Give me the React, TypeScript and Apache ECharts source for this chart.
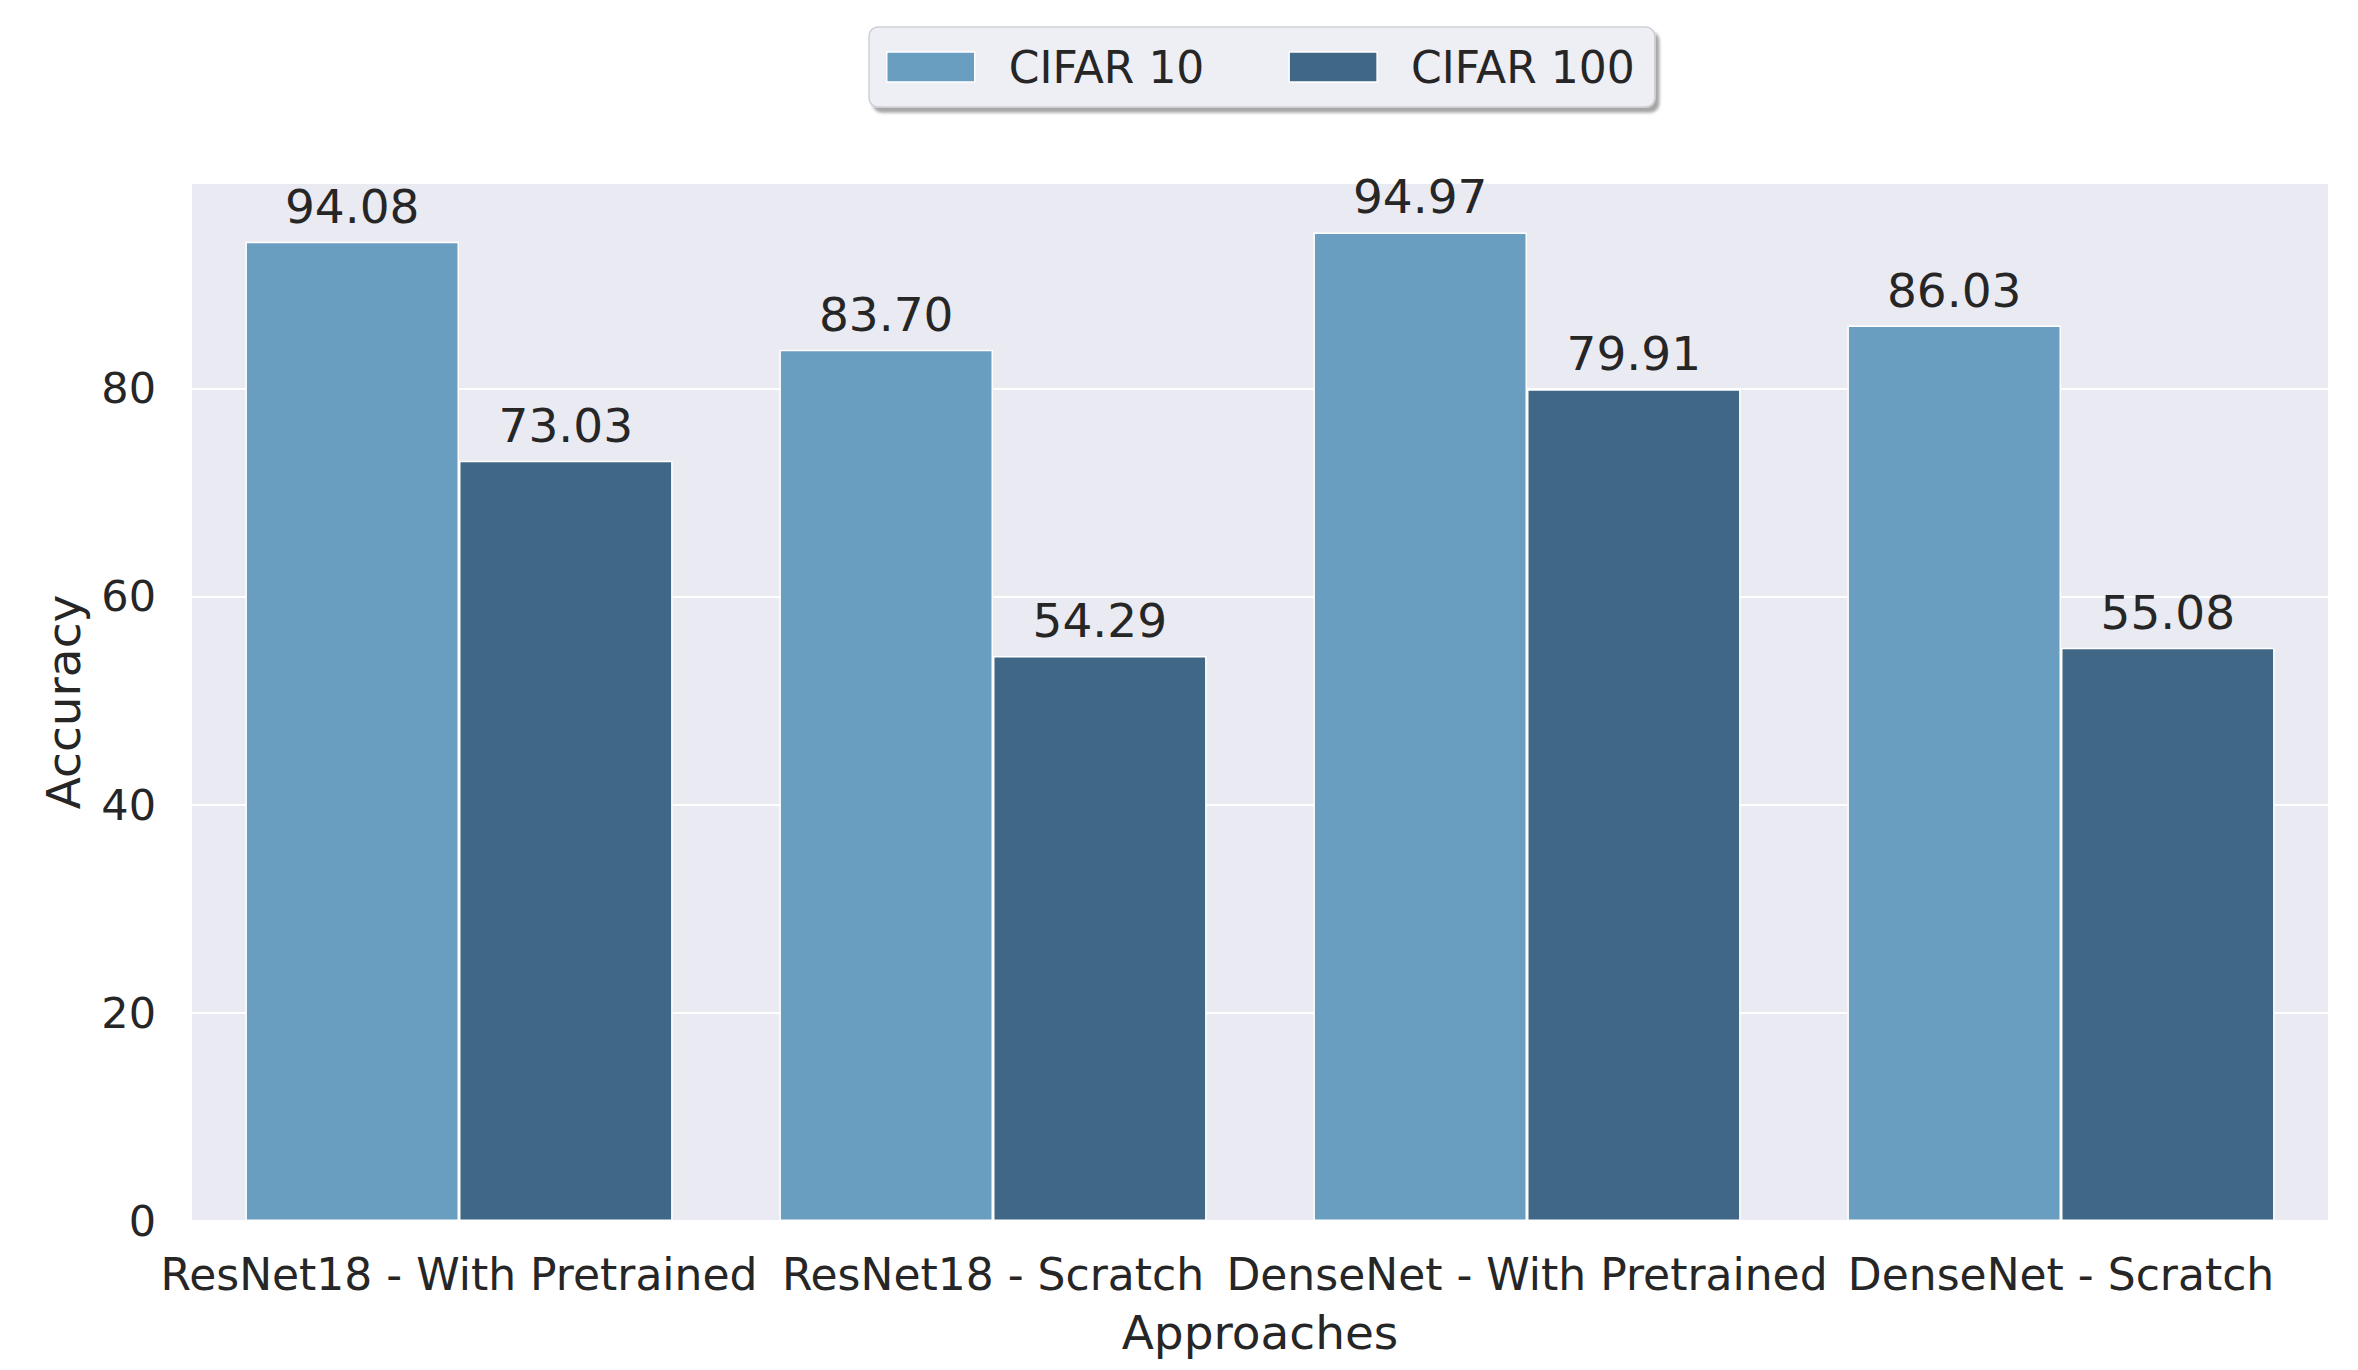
import React, { useEffect, useRef } from "react";
import * as echarts from "echarts";

const categories = [
  "ResNet18 - With Pretrained",
  "ResNet18 - Scratch",
  "DenseNet - With Pretrained",
  "DenseNet - Scratch",
];
const seriesNames = ["CIFAR 10", "CIFAR 100"];
const cifar10 = [94.08, 83.7, 94.97, 86.03];
const cifar100 = [73.03, 54.29, 79.91, 55.08];
const yTicks = [0, 20, 40, 60, 80];
const yMax = 99.72;

const FONT = "DejaVu Sans";
const TEXT = "#262626";
const COLORS = ["#6A9EC0", "#416786"];

export default function App() {
  const ref = useRef<HTMLDivElement>(null);
  useEffect(() => {
    if (!ref.current) return;
    const chart = echarts.init(ref.current, undefined, { renderer: "svg" });
    const mkSeries = (name: string, data: number[], color: string) => ({
      name,
      type: "bar",
      data,
      barGap: "0%",
      barCategoryGap: "20%",
      itemStyle: { color, borderColor: "#ffffff", borderWidth: 1.5 },
      label: {
        show: true,
        position: "top",
        distance: 12,
        formatter: (p: any) => Number(p.value).toFixed(2),
        fontFamily: FONT,
        fontSize: 47,
        color: TEXT,
      },
    });
    chart.setOption({
      animation: false,
      backgroundColor: "#ffffff",
      textStyle: { fontFamily: FONT },
      legend: {
        data: seriesNames,
        top: 27,
        left: 869,
        itemWidth: 88,
        itemHeight: 30,
        itemGap: 84,
        icon: "rect",
        itemStyle: { borderColor: "#ffffff", borderWidth: 1.5 },
        padding: [16, 20, 16, 17],
        backgroundColor: "#EEEEF5",
        borderColor: "#CFCFD6",
        borderWidth: 1.5,
        borderRadius: 9,
        shadowColor: "rgba(0,0,0,0.35)",
        shadowBlur: 3,
        shadowOffsetX: 4,
        shadowOffsetY: 5,
        textStyle: {
          fontFamily: FONT,
          fontSize: 44,
          color: TEXT,
          padding: [0, 0, 0, 29],
          lineHeight: 48,
        },
      },
      grid: {
        left: 192,
        right: 30,
        top: 183,
        bottom: 149,
        show: true,
        backgroundColor: "#EAEAF2",
        borderWidth: 0,
        containLabel: false,
      },
      xAxis: {
        type: "category",
        data: categories,
        name: "Approaches",
        nameLocation: "middle",
        nameGap: 88,
        nameTextStyle: { fontFamily: FONT, fontSize: 47, color: TEXT },
        axisLine: { show: false },
        axisTick: { show: false },
        axisLabel: {
          fontFamily: FONT,
          fontSize: 44,
          color: TEXT,
          margin: 31,
          interval: 0,
        },
        splitLine: { show: false },
      },
      yAxis: {
        type: "value",
        min: 0,
        max: yMax,
        interval: 20,
        name: "Accuracy",
        nameLocation: "middle",
        nameGap: 105,
        nameTextStyle: { fontFamily: FONT, fontSize: 47, color: TEXT },
        axisLine: { show: false },
        axisTick: { show: false },
        axisLabel: {
          fontFamily: FONT,
          fontSize: 43,
          color: TEXT,
          margin: 36,
          formatter: (v: number) => (yTicks.includes(v) ? String(v) : ""),
        },
        splitLine: { show: true, lineStyle: { color: "#ffffff", width: 2 } },
      },
      series: [
        mkSeries(seriesNames[0], cifar10, COLORS[0]),
        mkSeries(seriesNames[1], cifar100, COLORS[1]),
      ],
    });
    return () => chart.dispose();
  }, []);
  return (
    <div
      ref={ref}
      style={{ position: "fixed", left: 0, top: 0, width: 2358, height: 1370 }}
    />
  );
}
